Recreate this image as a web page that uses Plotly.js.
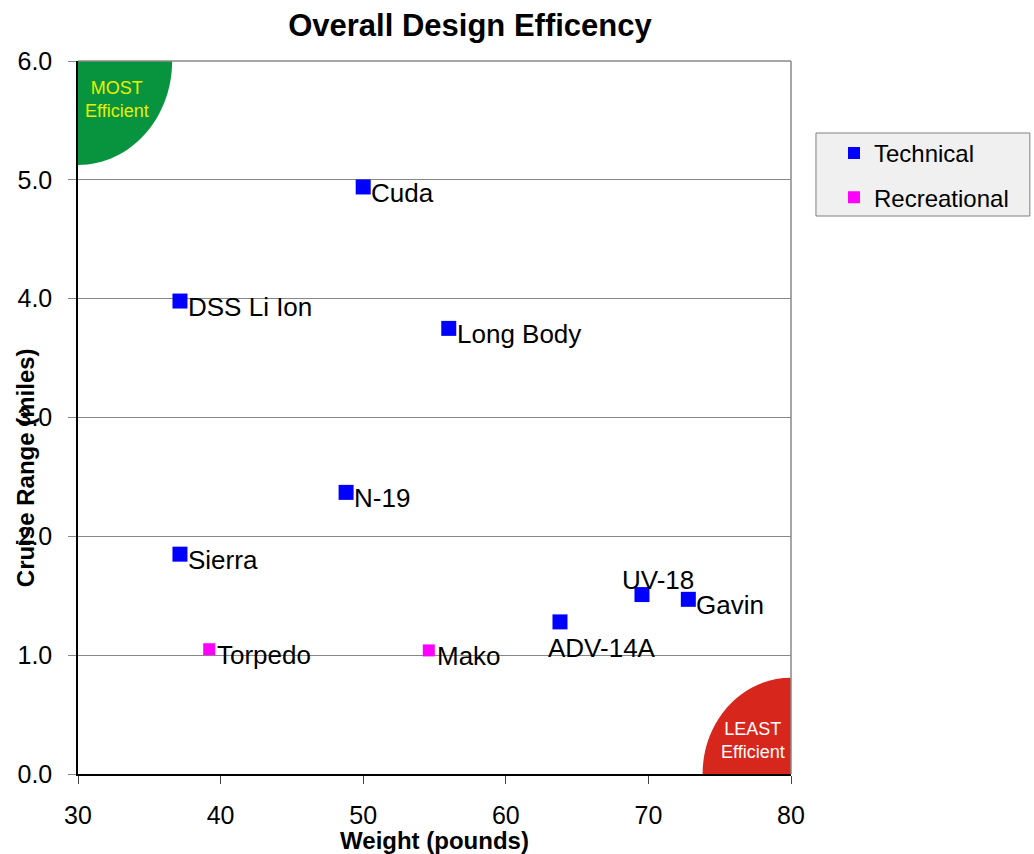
<!DOCTYPE html>
<html><head><meta charset="utf-8">
<script src="https://cdn.plot.ly/plotly-3.0.1.min.js"></script>
<style>html,body{margin:0;padding:0;background:#fff}#chart{width:1034px;height:854px}</style>
</head><body><div id="chart"></div>
<script>
// Technical series
const techNames = ["Cuda","DSS Li Ion","Long Body","N-19","Sierra","ADV-14A","UV-18","Gavin"];
const techWeight = [50.0, 37.15, 56.0, 48.8, 37.15, 63.8, 69.55, 72.8];
const techRange = [4.94, 3.98, 3.75, 2.37, 1.85, 1.28, 1.51, 1.47];
// Recreational series
const recNames = ["Torpedo","Mako"];
const recWeight = [39.2, 54.6];
const recRange = [1.05, 1.04];

const font = "Liberation Sans, Arial, sans-serif";

// label placement (styling only)
const labelPlace = {
  "UV-18": {xanchor: "center", xshift: 16, yshift: 15},
  "ADV-14A": {xanchor: "center", xshift: 42, yshift: -26}
};
function labelAnns(names, xs, ys){
  return names.map((n, i) => {
    const p = labelPlace[n] || {xanchor: "left", xshift: 6, yshift: -6};
    return {text: n, x: xs[i], y: ys[i], xref: "x", yref: "y", showarrow: false,
      xanchor: p.xanchor, yanchor: "middle", xshift: p.xshift, yshift: p.yshift,
      font: {family: font, size: 26, color: "#000"}};
  });
}

const k = 0.5523;
function quarter(cx, cy, rx, ry, sx, sy){
  const ax = cx + sx*rx, by = cy + sy*ry;
  return `M ${cx},${cy} L ${ax},${cy} C ${ax},${cy+sy*ry*k} ${cx+sx*rx*k},${by} ${cx},${by} Z`;
}

const traces = [
  {x: techWeight, y: techRange, name: "Technical", type: "scatter", mode: "markers",
   legendgroup: "t", cliponaxis: false,
   marker: {symbol: "square", size: 15, color: "#0000ff"}},
  {x: recWeight, y: recRange, name: "Recreational", type: "scatter", mode: "markers",
   legendgroup: "r", cliponaxis: false,
   marker: {symbol: "square", size: 12, color: "#ff00ff"}}
];

const layout = {
  width: 1034, height: 854,
  margin: {l: 78, r: 243, t: 61, b: 80},
  paper_bgcolor: "#fff", plot_bgcolor: "#fff",
  font: {family: font, size: 25, color: "#000"},
  title: {text: "<b>Overall Design Efficency</b>", x: 0.4545, xref: "container", y: 0.9707, yref: "container",
          xanchor: "center", yanchor: "middle", font: {family: font, size: 31, color: "#000"}},
  xaxis: {range: [30, 80], dtick: 10, tick0: 30, showgrid: false, zeroline: false,
          showline: true, linecolor: "#000", linewidth: 1.5, mirror: false,
          ticks: "outside", ticklen: 8, tickcolor: "#444", ticklabelstandoff: 10,
          tickfont: {family: font, size: 25},
          title: {text: "<b>Weight (pounds)</b>", font: {family: font, size: 24}, standoff: 4}},
  yaxis: {range: [0, 6], dtick: 1, tick0: 0, tickformat: ".1f", showgrid: true, gridcolor: "#888", gridwidth: 1,
          zeroline: false, showline: true, linecolor: "#000", linewidth: 1.5,
          ticks: "outside", ticklen: 8, tickcolor: "#888", ticklabelstandoff: 11,
          tickfont: {family: font, size: 25}},
  showlegend: true,
  legend: {x: 1.0603, y: 0.902, xanchor: "left", yanchor: "top", bgcolor: "rgba(0,0,0,0)",
           borderwidth: 0, font: {family: font, size: 24}, itemsizing: "constant",
           traceorder: "grouped", tracegroupgap: 10},
  shapes: [
    {type: "path", xref: "x", yref: "y", path: quarter(30, 6, 6.6, 0.875, 1, -1),
     fillcolor: "#08933f", line: {width: 0}, layer: "below"},
    {type: "path", xref: "x", yref: "y", path: quarter(80, 0, 6.2, 0.81, -1, 1),
     fillcolor: "#d7261c", line: {width: 0}, layer: "below"},
    {type: "line", xref: "paper", yref: "paper", x0: 0, x1: 1, y0: 1, y1: 1, line: {color: "#888", width: 1.5}},
    {type: "line", xref: "paper", yref: "paper", x0: 1, x1: 1, y0: 0, y1: 1, line: {color: "#888", width: 1.5}},
    {type: "rect", xref: "paper", yref: "paper", x0: 1.035, x1: 1.335, y0: 0.7826, y1: 0.899,
     fillcolor: "#f0f0f0", line: {color: "#808080", width: 1}, layer: "below"}
  ],
  annotations: [
    {text: "<b>Cruise Range (miles)</b>", xref: "paper", yref: "paper", x: -0.0743, y: 0.429, textangle: -90,
     showarrow: false, font: {family: font, size: 24, color: "#000"}, xanchor: "center", yanchor: "middle"},
    {text: "MOST<br>Efficient", xref: "x", yref: "y", x: 32.7, y: 5.68, showarrow: false,
     font: {family: font, size: 18, color: "#e8f000"}},
    {text: "LEAST<br>Efficient", xref: "x", yref: "y", x: 77.33, y: 0.28, showarrow: false,
     font: {family: font, size: 18, color: "#ffffff"}}
  ].concat(labelAnns(techNames, techWeight, techRange), labelAnns(recNames, recWeight, recRange))
};
Plotly.newPlot("chart", traces, layout, {displayModeBar: false});
</script></body></html>
